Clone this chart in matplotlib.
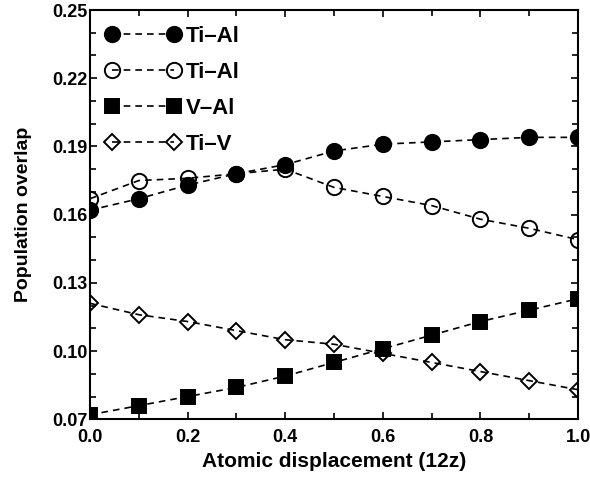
import numpy as np
import matplotlib.pyplot as plt
from matplotlib.ticker import FixedLocator, MultipleLocator, FormatStrFormatter

plt.rcParams['font.family'] = ['Liberation Sans', 'DejaVu Sans']
plt.rcParams['font.weight'] = 'bold'

# данные
displacement = [0.0, 0.1, 0.2, 0.3, 0.4, 0.5, 0.6, 0.7, 0.8, 0.9, 1.0]
ti_al_filled = [0.162, 0.167, 0.173, 0.178, 0.182, 0.188, 0.191, 0.192, 0.193, 0.194, 0.194]
ti_al_open = [0.167, 0.175, 0.176, 0.178, 0.180, 0.172, 0.168, 0.164, 0.158, 0.154, 0.149]
v_al = [0.072, 0.076, 0.080, 0.084, 0.089, 0.095, 0.101, 0.107, 0.113, 0.118, 0.123]
ti_v = [0.121, 0.116, 0.113, 0.109, 0.105, 0.103, 0.099, 0.095, 0.091, 0.087, 0.083]

labels = ['Ti\u2013Al', 'Ti\u2013Al', 'V\u2013Al', 'Ti\u2013V']
y_ticks = [0.07, 0.10, 0.13, 0.16, 0.19, 0.22, 0.25]

fig = plt.figure(figsize=(5.9, 4.84), dpi=100)
ax = fig.add_axes([0.1525, 0.1337, 0.8272, 0.8456])

style = dict(color='black', linestyle='--', dashes=(4, 3), linewidth=1.2, markeredgewidth=1.4)
ax.plot(displacement, ti_al_filled, marker='o', markersize=11, label=labels[0], **style)
ax.plot(displacement, ti_al_open, marker='o', markersize=11, markerfacecolor='none', label=labels[1], **style)
ax.plot(displacement, v_al, marker='s', markersize=10, label=labels[2], **style)
ax.plot(displacement, ti_v, marker='D', markersize=8, markerfacecolor='none', label=labels[3], **style)

ax.set_xlim(0, 1.0)
ax.set_ylim(0.07, 0.25)
ax.xaxis.set_major_locator(MultipleLocator(0.2))
ax.xaxis.set_minor_locator(MultipleLocator(0.1))
ax.yaxis.set_major_locator(FixedLocator(y_ticks))
ax.yaxis.set_minor_locator(FixedLocator(np.arange(0.07, 0.2501, 0.01)))
ax.xaxis.set_major_formatter(FormatStrFormatter('%.1f'))
ax.yaxis.set_major_formatter(FormatStrFormatter('%.2f'))
ax.tick_params(which='both', direction='in', top=True, right=True, labelsize=13, width=1.2)
ax.tick_params(which='major', length=5)
ax.tick_params(which='minor', length=4)
ax.tick_params(axis='x', pad=7)
ax.tick_params(axis='y', pad=2)
for s in ax.spines.values():
    s.set_linewidth(1.5)

ax.set_xlabel('Atomic displacement (12z)', fontsize=15, fontweight='bold', labelpad=4)
ax.set_ylabel('Population overlap', fontsize=14, fontweight='bold', labelpad=14)

ax.legend(loc='upper left', numpoints=2, handlelength=3.4, frameon=False,
          prop={'size': 16, 'weight': 'bold'}, labelspacing=0.68,
          borderaxespad=0.4, borderpad=0.3, handletextpad=0.2)

fig.savefig('out.png', dpi=100)
